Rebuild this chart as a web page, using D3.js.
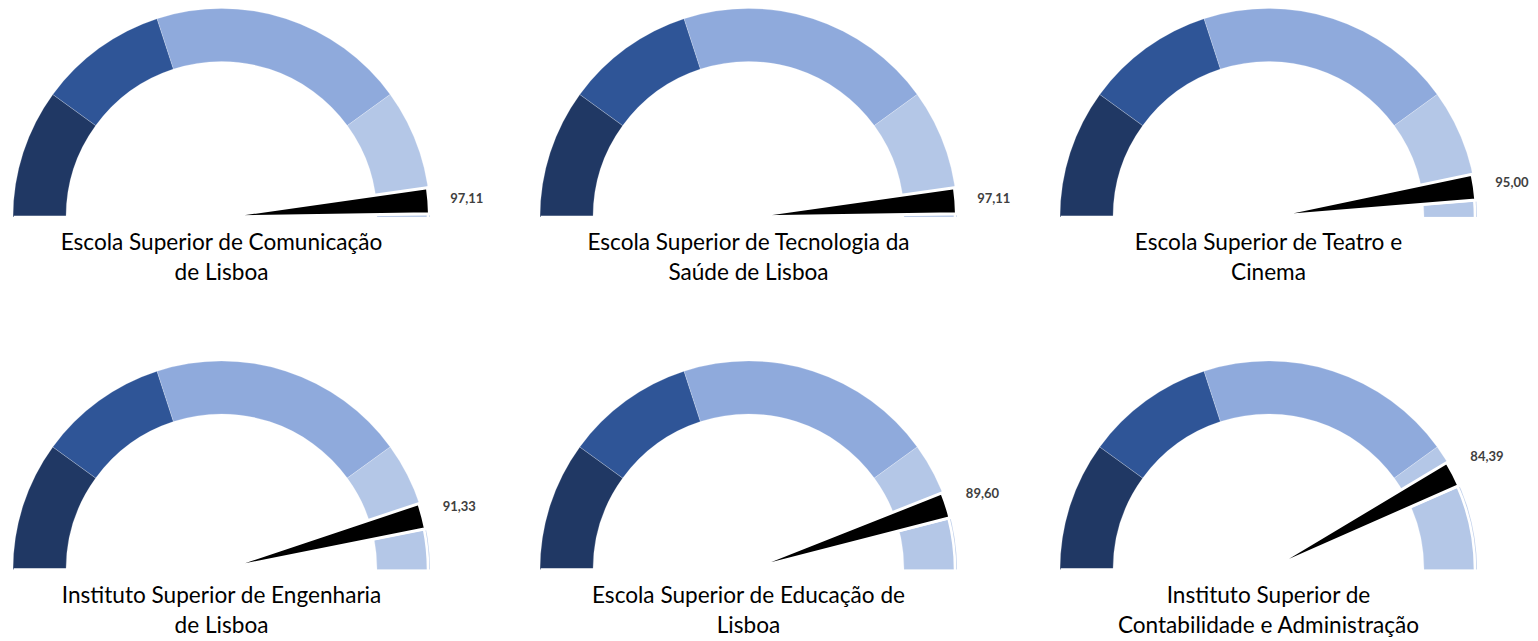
<!DOCTYPE html>
<html>
<head>
<meta charset="utf-8">
<script src="https://cdn.jsdelivr.net/npm/d3@7"></script>
<style>
  html, body { margin: 0; padding: 0; background: #ffffff; }
  svg { display: block; }
</style>
</head>
<body>
<svg id="chart" width="1538" height="641"></svg>
<script>
// ---- data ----
const categories = [
  "Escola Superior de Comunicação\nde Lisboa",
  "Escola Superior de Tecnologia da\nSaúde de Lisboa",
  "Escola Superior de Teatro e\nCinema",
  "Instituto Superior de Engenharia\nde Lisboa",
  "Escola Superior de Educação de\nLisboa",
  "Instituto Superior de\nContabilidade e Administração"
];
const values = [97.11, 97.11, 95.00, 91.33, 89.60, 84.39];
const bandLimits = [0, 20, 40, 80, 100];
const bandColors = ["#203864", "#2F5597", "#8FAADC", "#B4C7E7"];
const needleOffsets = [-1.6, 2.4];

// ---- layout ----
const colX = [221.5, 748.5, 1268.5];
const rowY = [217, 569.5];
const R = 208.5, Rin = 155.5;

const svg = d3.select("#chart");
const angle = d3.scaleLinear().domain([0, 100]).range([-Math.PI / 2, Math.PI / 2]);
const locale = d3.formatLocale({decimal: ",", thousands: ".", grouping: [3], currency: ["", "€"]});
const fmt = locale.format(".2f");

const bands = bandColors.map((c, i) => ({from: bandLimits[i], to: bandLimits[i + 1], color: c}));

const bandArc = d3.arc().innerRadius(Rin).outerRadius(R);

values.forEach((v, i) => {
  const cx = colX[i % 3], cy = rowY[Math.floor(i / 3)];
  const g = svg.append("g").attr("transform", `translate(${cx},${cy})`);

  // gauge bands
  g.selectAll("path.band").data(bands).join("path")
    .attr("class", "band")
    .attr("d", d => bandArc({startAngle: angle(d.from), endAngle: angle(d.to)}))
    .attr("fill", d => d.color)
    .attr("stroke", "#ffffff")
    .attr("stroke-opacity", 0.35)
    .attr("stroke-width", 0.6);

  const a1 = angle(v + needleOffsets[0]);
  const a2 = angle(v + needleOffsets[1]);

  // remaining pie slice (invisible fill, white border)
  g.append("path")
    .attr("d", d3.arc().innerRadius(0).outerRadius(R - 2)({startAngle: a2, endAngle: Math.PI * 1.5}))
    .attr("fill", "none")
    .attr("stroke", "#ffffff")
    .attr("stroke-width", 2.6)
    .attr("stroke-linejoin", "miter");

  // needle slice
  g.append("path")
    .attr("d", d3.arc().innerRadius(0).outerRadius(R - 0.5)({startAngle: a1, endAngle: a2}))
    .attr("fill", "#000000")
    .attr("stroke", "#ffffff")
    .attr("stroke-width", 3)
    .attr("stroke-linejoin", "miter");

  // value label
  const am = angle(v + (needleOffsets[0] + needleOffsets[1]) / 2);
  const lr = 246;
  g.append("text")
    .attr("x", lr * Math.sin(am))
    .attr("y", -lr * Math.cos(am))
    .attr("text-anchor", "middle")
    .attr("dominant-baseline", "central")
    .attr("font-family", "Lato, 'Open Sans', sans-serif")
    .attr("font-weight", "bold")
    .attr("font-size", 13)
    .attr("fill", "#404040")
    .text(fmt(v));

  // title
  const lines = categories[i].split("\n");
  const t = g.append("text")
    .attr("text-anchor", "middle")
    .attr("font-family", "Lato, 'Open Sans', sans-serif")
    .attr("font-size", 22.6)
    .attr("fill", "#000000");
  lines.forEach((ln, k) => {
    t.append("tspan").attr("x", 0).attr("y", 33 + k * 30).text(ln);
  });
});
</script>
</body>
</html>
